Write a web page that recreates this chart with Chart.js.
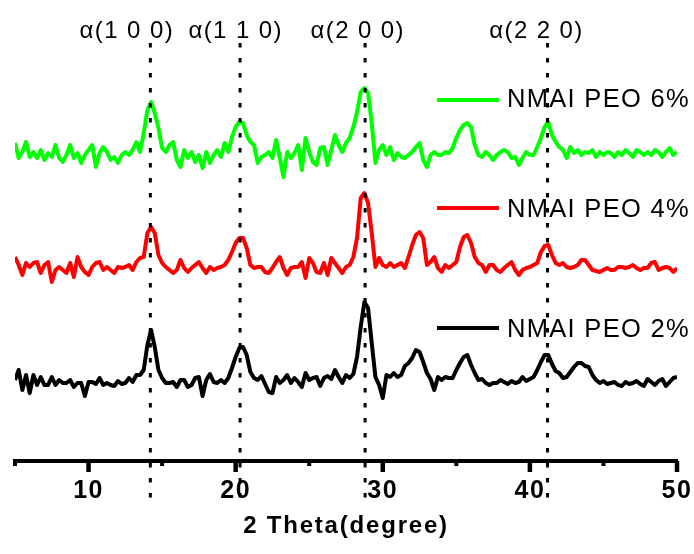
<!DOCTYPE html>
<html>
<head>
<meta charset="utf-8">
<script src="https://cdn.jsdelivr.net/npm/chart.js@4.4.0/dist/chart.umd.min.js"></script>
<style>
  html, body { margin: 0; padding: 0; background: #fff; }
  #chart { display: block; }
</style>
</head>
<body>
<canvas id="chart" width="694" height="554"></canvas>
<script>
// 2 theta grid (degree)
const twoTheta = [
  5,5.25,5.5,5.75,6,6.25,6.5,6.75,7,7.25,7.5,7.75,8,8.25,8.5,8.75,9,9.25,9.5,9.75,
  10,10.25,10.5,10.75,11,11.25,11.5,11.75,12,12.25,12.5,12.75,13,13.25,13.5,13.75,14,14.25,14.5,14.75,
  15,15.25,15.5,15.75,16,16.25,16.5,16.75,17,17.25,17.5,17.75,18,18.25,18.5,18.75,19,19.25,19.5,19.75,
  20,20.25,20.5,20.75,21,21.25,21.5,21.75,22,22.25,22.5,22.75,23,23.25,23.5,23.75,24,24.25,24.5,24.75,
  25,25.25,25.5,25.75,26,26.25,26.5,26.75,27,27.25,27.5,27.75,28,28.25,28.5,28.75,29,29.25,29.5,29.75,
  30,30.25,30.5,30.75,31,31.25,31.5,31.75,32,32.25,32.5,32.75,33,33.25,33.5,33.75,34,34.25,34.5,34.75,
  35,35.25,35.5,35.75,36,36.25,36.5,36.75,37,37.25,37.5,37.75,38,38.25,38.5,38.75,39,39.25,39.5,39.75,
  40,40.25,40.5,40.75,41,41.25,41.5,41.75,42,42.25,42.5,42.75,43,43.25,43.5,43.75,44,44.25,44.5,44.75,
  45,45.25,45.5,45.75,46,46.25,46.5,46.75,47,47.25,47.5,47.75,48,48.25,48.5,48.75,49,49.25,49.5,49.75,
  50
];

// intensities (a.u., stacked with offsets)
const peo6 = [
  318,303,309,319,304,309,303,311,301,308,304,316,303,299,306,316,303,308,298,306,
  311,316,294,308,314,309,301,304,298,306,309,306,311,319,309,328,351,359,348,333,
  313,309,316,319,301,294,311,303,309,299,306,293,309,298,306,311,304,318,309,324,
  334,339,338,326,319,316,298,304,306,309,303,321,303,284,309,303,308,316,291,323,
  309,299,296,313,314,296,311,326,316,309,318,323,334,349,369,373,368,338,298,311,
  316,306,314,301,308,304,303,306,309,314,318,301,294,306,309,306,306,309,308,313,
  323,331,336,338,334,316,306,304,309,306,301,306,309,311,309,303,304,296,303,309,
  306,306,314,323,334,339,326,319,314,311,303,314,308,311,306,309,308,311,304,309,
  306,309,308,304,309,306,311,308,304,311,309,306,309,306,311,309,304,309,313,306,
  309
];
const peo4 = [
  204,196,186,198,194,198,199,188,196,199,179,191,194,191,188,198,184,204,194,189,
  186,194,198,199,191,194,191,188,194,193,194,196,191,199,203,204,228,234,228,206,
  198,194,191,188,191,201,193,189,193,196,199,193,188,194,191,193,194,196,201,209,
  218,223,223,213,196,193,194,194,189,188,193,199,204,193,186,193,194,194,199,183,
  203,198,189,188,198,186,203,198,193,188,194,196,204,223,263,268,258,228,194,203,
  196,194,198,194,196,198,193,204,216,226,229,223,196,199,204,193,189,196,193,196,
  199,214,224,226,218,204,198,196,189,196,196,191,189,193,196,199,191,186,191,193,
  194,196,198,209,215,216,206,198,196,198,194,193,194,196,201,201,196,191,190,189,
  191,193,191,191,194,194,193,194,196,193,191,193,193,198,199,191,193,194,193,189,
  193
];
const peo2 = [
  81,91,71,86,68,86,76,84,76,76,84,76,81,78,78,81,74,78,78,65,
  79,79,77,83,76,78,76,75,80,77,78,83,79,86,86,91,116,131,114,91,
  83,78,78,79,74,81,81,74,76,83,84,65,81,87,79,78,81,78,83,93,
  104,113,114,106,89,83,81,85,77,69,68,84,78,81,86,78,83,79,74,88,
  81,83,84,75,83,85,82,91,84,78,86,83,87,104,134,159,153,118,84,76,
  63,86,84,88,84,86,95,98,103,111,109,99,88,82,71,84,81,84,83,83,
  91,98,104,106,96,88,81,82,78,76,78,78,81,79,77,80,78,79,84,80,
  82,84,91,99,106,106,97,90,88,83,84,89,94,98,98,95,94,86,81,78,
  80,77,78,79,76,75,79,77,78,80,77,75,82,79,76,80,82,75,79,83,
  84
];

const seriesNames = ['NMAI PEO 6%', 'NMAI PEO 4%', 'NMAI PEO 2%'];
const seriesColors = ['#00ff00', '#ff0000', '#000000'];

const majorTicks = [10, 20, 30, 40, 50];
const minorTicks = [5, 15, 25, 35, 45];

const peakPositions = [14.2, 20.3, 28.8, 41.2];
const peakLabels = ['α(1 0 0)', 'α(1 1 0)', 'α(2 0 0)', 'α(2 2 0)'];
const peakLabelCenters = [12.6, 20.0, 28.3, 40.45];

const xTitle = '2 Theta(degree)';

const FONT = '"Liberation Sans", Arial, sans-serif';

const legendLineY = [100, 208, 328];
const legendTextY = [107, 217, 337];

const decor = {
    id: 'decor',
    beforeDraw(chart) {
        chart.ctx.letterSpacing = '1.5px';
    },
    afterDraw(chart) {
        const {ctx, chartArea, scales: {x}} = chart;
        const axisY = chartArea.bottom;
        const seg = (x1, y1, x2, y2) => {
            ctx.beginPath();
            ctx.moveTo(x1, y1);
            ctx.lineTo(x2, y2);
            ctx.stroke();
        };
        ctx.save();
        ctx.strokeStyle = '#000';
        ctx.fillStyle = '#000';
        ctx.lineCap = 'butt';

        // tick marks
        ctx.lineWidth = 4.5;
        majorTicks.forEach(v => { const px = x.getPixelForValue(v); seg(px, axisY, px, axisY + 11); });
        ctx.lineWidth = 4;
        minorTicks.forEach(v => { const px = x.getPixelForValue(v); seg(px, axisY, px, axisY + 5); });

        // axis title
        ctx.font = 'bold 24px ' + FONT;
        ctx.letterSpacing = '1.8px';
        ctx.textAlign = 'center';
        ctx.textBaseline = 'alphabetic';
        ctx.fillText(xTitle, (chartArea.left + chartArea.right) / 2, 533);

        // dotted peak guides
        ctx.lineWidth = 3;
        ctx.setLineDash([4.5, 10.5]);
        peakPositions.forEach(v => { const px = x.getPixelForValue(v); seg(px, 43, px, 503); });
        ctx.setLineDash([]);

        // peak labels
        ctx.font = '24px ' + FONT;
        ctx.letterSpacing = '1.4px';
        peakLabels.forEach((t, i) => ctx.fillText(t, x.getPixelForValue(peakLabelCenters[i]), 38));

        // legend entries beside each curve
        ctx.font = '25.5px ' + FONT;
        ctx.letterSpacing = '1.3px';
        ctx.textAlign = 'left';
        chart.data.datasets.forEach((ds, i) => {
            ctx.strokeStyle = ds.borderColor;
            ctx.lineWidth = 4;
            seg(437, legendLineY[i], 499, legendLineY[i]);
            ctx.fillText(ds.label, 507, legendTextY[i]);
        });
        ctx.restore();
    }
};

const datasets = [peo6, peo4, peo2].map((ys, k) => ({
    label: seriesNames[k],
    data: ys.map((y, i) => ({x: twoTheta[i], y})),
    borderColor: seriesColors[k],
    borderWidth: 4,
    borderJoinStyle: 'round',
    pointRadius: 0,
    tension: 0,
    fill: false
}));

new Chart(document.getElementById('chart'), {
    type: 'line',
    data: {datasets},
    options: {
        responsive: false,
        animation: false,
        events: [],
        layout: {padding: {left: 15, right: 17, top: 1, bottom: 32.4}},
        plugins: {legend: {display: false}, tooltip: {enabled: false}},
        scales: {
            x: {
                type: 'linear',
                min: 5,
                max: 50,
                afterBuildTicks: s => { s.ticks = majorTicks.map(v => ({value: v})); },
                grid: {display: false, drawTicks: false},
                border: {display: true, width: 4, color: '#000'},
                ticks: {
                    color: '#000', padding: 0, maxRotation: 0, autoSkip: false,
                    font: {family: FONT, size: 25, weight: 'bold', lineHeight: 2.424}
                }
            },
            y: {display: false, min: 0, max: 460}
        }
    },
    plugins: [decor]
});
</script>
</body>
</html>
